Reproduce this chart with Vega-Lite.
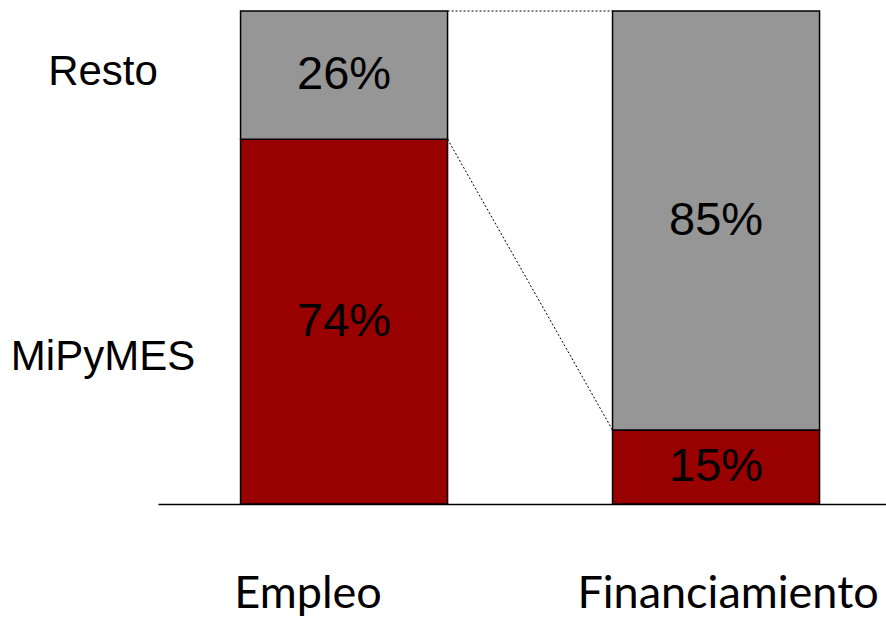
{
  "$schema": "https://vega.github.io/schema/vega-lite/v6.json",
  "width": 728,
  "height": 493,
  "autosize": {"type": "none"},
  "padding": {"left": 158, "top": 11, "right": 0, "bottom": 113},
  "background": "white",
  "config": {"view": {"stroke": null}},
  "datasets": {
    "shares": [
      {"cat": "Empleo", "seg": "MiPyMES", "value": 74},
      {"cat": "Empleo", "seg": "Resto", "value": 26},
      {"cat": "Financiamiento", "seg": "MiPyMES", "value": 15},
      {"cat": "Financiamiento", "seg": "Resto", "value": 85}
    ],
    "links": [
      {"from": "Empleo", "to": "Financiamiento", "a": 100, "b": 100},
      {"from": "Empleo", "to": "Financiamiento", "a": 74, "b": 15}
    ]
  },
  "layer": [
    {
      "data": {"name": "shares"},
      "transform": [
        {"stack": "value", "groupby": ["cat"], "as": ["v0", "v1"], "sort": [{"field": "seg", "order": "ascending"}]}
      ],
      "mark": {"type": "bar", "stroke": "black", "strokeWidth": 1.5},
      "encoding": {
        "x": {
          "field": "cat", "type": "nominal",
          "scale": {"domain": ["Empleo", "Financiamiento"], "paddingInner": 0.4435, "paddingOuter": 0.2003, "align": 0.554},
          "axis": {
            "title": null, "ticks": false, "domainColor": "black", "domainWidth": 1.5,
            "labelAngle": 0, "labelFont": "Lato", "labelFontSize": 45, "labelColor": "black",
            "labelPadding": 67, "labelLimit": 0, "labelOverlap": false,
            "labelOffset": {"condition": {"test": "datum.value == 'Empleo'", "value": -36}, "value": 12}
          }
        },
        "y": {"field": "v0", "type": "quantitative", "scale": {"domain": [0, 100]}, "axis": null},
        "y2": {"field": "v1"},
        "color": {
          "field": "seg", "type": "nominal",
          "scale": {"domain": ["Resto", "MiPyMES"], "range": ["#969696", "#990000"]},
          "legend": {
            "title": null, "orient": "none", "legendX": -97, "legendY": 40,
            "labelFont": "Liberation Sans", "labelFontSize": 42, "labelColor": "black",
            "labelAlign": "center", "labelOffset": 0, "labelLimit": 0, "symbolOpacity": 0, "symbolSize": 1,
            "symbolStrokeWidth": 0, "rowPadding": 243
          }
        }
      }
    },
    {
      "data": {"name": "shares"},
      "transform": [
        {"stack": "value", "groupby": ["cat"], "as": ["v0", "v1"], "sort": [{"field": "seg", "order": "ascending"}]},
        {"calculate": "(datum.v0 + datum.v1) / 2", "as": "mid"},
        {"calculate": "datum.value + '%'", "as": "label"}
      ],
      "mark": {"type": "text", "font": "Liberation Sans", "fontSize": 47, "color": "black", "baseline": "middle"},
      "encoding": {
        "x": {"field": "cat", "type": "nominal"},
        "y": {"field": "mid", "type": "quantitative"},
        "text": {"field": "label"}
      }
    },
    {
      "data": {"name": "links"},
      "mark": {"type": "rule", "color": "black", "strokeWidth": 1, "strokeDash": [2, 2]},
      "encoding": {
        "x": {"field": "from", "type": "nominal", "bandPosition": 1},
        "x2": {"field": "to", "bandPosition": 0},
        "y": {"field": "a", "type": "quantitative"},
        "y2": {"field": "b"}
      }
    }
  ]
}
